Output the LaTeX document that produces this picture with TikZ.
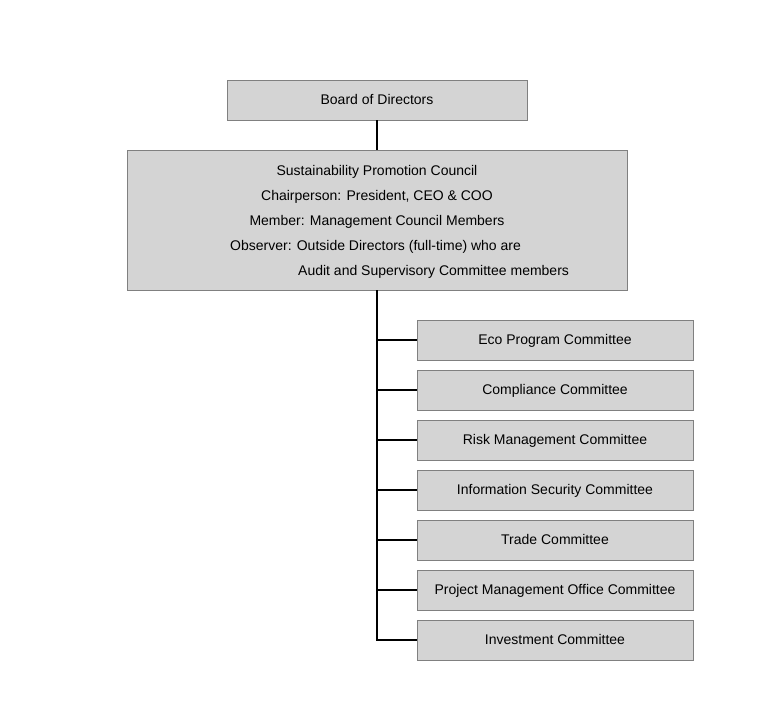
\documentclass[tikz,border=0pt]{standalone}
\usepackage{fontspec}
\setmainfont{Liberation Sans}
\begin{document}
\begin{tikzpicture}[x=1pt,y=-1pt,
  box/.style={draw=black!50,fill=black!17,line width=0.8pt,inner sep=0pt,text height=10pt,text depth=2pt,font=\fontsize{14}{16}\selectfont},
  txt/.style={inner sep=0pt,text height=10pt,text depth=2pt,font=\fontsize{14}{16}\selectfont},
  link/.style={draw=black,line width=1.6pt}]
\useasboundingbox (0,0) rectangle (759,720);
\node[box,minimum width=300pt,minimum height=40pt] (board) at (377,100) {Board of Directors};
\node[box,minimum width=500pt,minimum height=140pt] (council) at (377,220) {};
\node[txt] (t1) at (377,171) {Sustainability Promotion Council};
\node[txt] (t2) at (377,196) {Chairperson: President, CEO \& COO};
\node[txt] (t3) at (377,221) {Member: Management Council Members};
\node[txt,anchor=west] (t4) at (230,246) {Observer: Outside Directors (full-time) who are};
\node[txt,anchor=west] (t5) at (298,271) {Audit and Supervisory Committee members};
\foreach \i/\t in {1/Eco Program Committee,2/Compliance Committee,3/Risk Management Committee,4/Information Security Committee,5/Trade Committee,6/Project Management Office Committee,7/Investment Committee}{
  \node[box,minimum width=276pt,minimum height=40pt] (c\i) at (555,290+50*\i) {\t};
}
\draw[link] (board.south) -- (council.north);
\coordinate (trunk) at (377,640);
\draw[link] (council.south) -- (trunk) -- (c7.west);
\foreach \i in {1,...,6}{
  \draw[link] (c\i.west) -- (c\i.west -| trunk);
}
\end{tikzpicture}
\end{document}
